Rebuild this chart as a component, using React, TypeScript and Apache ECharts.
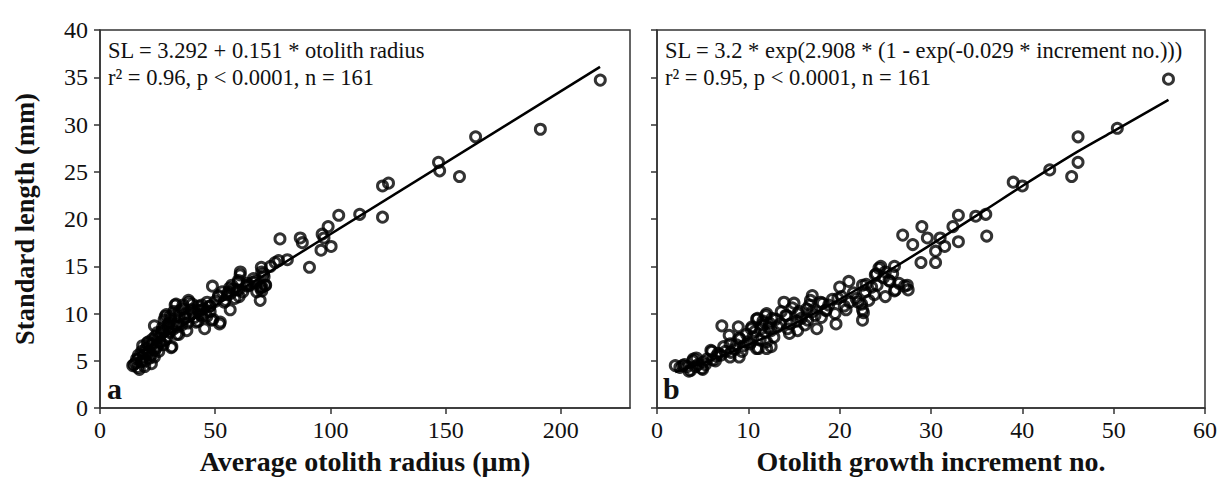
import React, { useEffect, useRef } from "react";
import * as echarts from "echarts";

// Panel a: standard length vs average otolith radius
const radiusX = [
  217.1, 191.1, 163.0, 156.0, 146.9, 147.4, 125.2, 122.6, 122.6, 112.7, 103.6, 99.0, 96.4, 97.2, 100.3, 95.9, 90.9, 86.9, 87.8, 78.1,
  81.3, 77.5, 76.0, 70.0, 70.2, 71.2, 67.3, 71.9, 69.9, 70.2, 69.5, 66.4, 63.9, 60.8, 59.9, 60.4, 57.9, 55.3, 56.2, 56.5,
  53.9, 51.5, 51.9, 48.8, 47.6, 48.5, 45.4, 43.3, 42.8, 42.5, 40.4, 38.7, 37.7, 36.8, 35.6, 34.2, 33.0, 32.2, 31.2, 30.8,
  30.1, 28.8, 27.1, 26.2, 25.0, 23.6, 23.6, 22.8, 20.5, 19.7, 17.1, 14.7, 15.9, 18.5, 21.1, 24.5,
  14.2, 16.3, 18.7, 19.4, 22.3, 20.4, 22.3, 23.8, 18.1, 21.7, 24.6, 26.1, 28.3, 30.9, 26.8, 29.7, 27.8, 30.4, 33.6, 36.7,
  39.9, 41.7, 44.2, 46.4, 47.8, 49.0, 52.2, 55.8, 59.4, 60.9, 63.8, 69.6, 71.0, 71.7, 16.7, 21.0, 25.3, 29.4, 33.3, 28.3,
  32.6, 34.1, 38.4, 42.4, 44.2, 47.8, 51.4, 54.3, 56.5, 57.2, 60.1, 60.1, 63.7, 66.6, 70.3,
  15.5, 17.8, 19.0, 20.0, 21.5, 23.0, 24.0, 25.5, 26.5, 27.5, 28.0, 29.0, 30.0, 31.5, 32.0, 33.5, 34.5, 35.5, 36.0, 37.0,
  38.0, 39.0, 40.0, 41.0, 43.5, 45.0, 46.5, 50.0, 53.0, 58.5, 62.0, 65.0, 68.0, 74.0,
];
const radiusSL = [
  34.7, 29.5, 28.7, 24.5, 26.0, 25.1, 23.8, 23.5, 20.2, 20.5, 20.4, 19.2, 18.4, 18.0, 17.1, 16.7, 14.9, 18.0, 17.5, 17.9,
  15.7, 15.6, 15.4, 14.9, 14.4, 13.9, 13.4, 13.0, 12.8, 12.4, 11.4, 13.3, 12.9, 14.1, 13.3, 11.8, 12.6, 12.0, 12.7, 10.4,
  11.2, 11.9, 8.9, 12.9, 10.8, 9.3, 8.4, 10.3, 10.8, 9.2, 10.1, 11.2, 8.2, 9.6, 10.5, 7.8, 11.0, 8.9, 6.5, 9.4,
  8.0, 9.9, 8.5, 6.9, 8.0, 8.7, 5.4, 7.3, 6.9, 5.0, 4.1, 4.6, 5.2, 6.6, 6.0, 6.4,
  4.5, 4.3, 5.3, 4.4, 4.7, 5.7, 5.6, 6.1, 6.0, 6.7, 6.6, 7.0, 7.2, 6.4, 8.1, 8.6, 9.3, 9.7, 9.0, 9.5,
  10.4, 9.1, 10.9, 9.7, 10.2, 9.4, 9.1, 12.3, 12.5, 14.4, 13.2, 12.7, 14.2, 13.0, 5.6, 7.0, 7.4, 8.8, 7.8, 9.7,
  10.9, 9.7, 11.4, 10.4, 9.7, 10.8, 11.8, 11.4, 12.1, 13.0, 13.5, 12.5, 13.0, 13.7, 12.8,
  4.8, 4.9, 5.8, 6.3, 5.3, 6.8, 7.6, 6.0, 7.8, 6.7, 8.2, 7.5, 9.0, 8.3, 10.2, 8.6, 10.3, 8.8, 10.9, 10.0,
  9.0, 9.8, 11.0, 9.6, 9.9, 10.5, 11.2, 11.3, 12.3, 11.6, 12.3, 13.0, 12.3, 15.0,
];
const fitAX = [14, 217];
const fitAY = [5.4, 36.1];

// Panel b: standard length vs otolith growth increment number
const incrementX = [
  56.0, 50.4, 46.1, 46.1, 45.4, 43.0, 39.0, 40.0, 36.0, 34.9, 36.1, 33.0, 32.4, 33.0, 31.0, 31.5, 30.5, 30.5, 29.0, 29.6,
  28.9, 26.9, 28.0, 26.0, 24.3, 23.9, 25.0, 25.5, 24.1, 25.0, 26.1, 27.4, 27.5, 22.5, 22.8, 23.2, 22.5, 22.5, 22.0, 21.0,
  20.0, 19.8, 20.7, 19.5, 19.6, 18.5, 17.9, 17.0, 16.7, 17.0, 17.5, 16.5, 15.6, 15.0, 13.9, 14.1, 14.6, 14.5, 15.4, 13.5,
  12.6, 12.5, 12.5, 12.0, 12.0, 11.5, 11.0, 10.7, 11.1, 10.4, 10.0, 8.9, 9.0, 9.0, 7.9, 8.0, 8.0, 7.1, 7.3, 6.7,
  6.0, 6.1, 5.1, 4.9, 4.0, 4.3, 3.7, 3.0, 2.0, 4.5, 8.7,
  2.8, 3.5, 3.9, 5.0, 5.9, 7.0, 8.1, 9.1, 10.3, 10.5, 10.9, 10.9, 11.4, 11.9, 12.0, 13.0, 14.2, 15.3, 15.4, 16.4,
  18.1, 18.5, 21.1, 22.4, 22.6, 22.9, 24.0, 24.5, 25.4, 26.0, 27.1,
  2.5, 3.3, 4.2, 5.5, 6.5, 7.5, 8.5, 9.5, 9.8, 10.2, 11.3, 11.8, 12.3, 12.8, 13.2, 13.6, 14.3, 14.8, 15.8, 16.2,
  16.8, 17.3, 18.0, 18.8, 19.2, 20.2, 20.5, 21.5, 21.8, 23.5, 23.8, 24.8, 25.8, 26.5, 12.2, 9.3, 6.4, 5.3, 11.6,
];
const incrementSL = [
  34.8, 29.6, 28.7, 26.0, 24.5, 25.2, 23.9, 23.5, 20.5, 20.3, 18.2, 20.4, 19.2, 17.6, 18.0, 17.1, 16.6, 15.4, 19.2, 18.0,
  15.4, 18.3, 17.3, 15.0, 14.8, 14.1, 14.4, 13.4, 13.0, 11.8, 12.5, 13.0, 12.5, 13.0, 12.3, 11.4, 10.4, 9.3, 11.2, 13.4,
  12.8, 11.6, 10.4, 10.0, 8.9, 10.4, 11.2, 11.9, 10.9, 10.2, 8.4, 9.3, 10.2, 11.1, 11.2, 9.8, 8.9, 7.9, 8.2, 8.9,
  9.5, 8.2, 6.5, 10.0, 6.3, 8.8, 9.5, 8.1, 6.3, 8.6, 7.0, 8.6, 7.4, 5.4, 7.7, 6.8, 5.4, 8.7, 6.5, 5.8,
  6.0, 5.1, 4.9, 4.2, 5.2, 5.3, 4.0, 4.6, 4.5, 4.6, 6.7,
  4.5, 3.9, 5.0, 4.1, 6.1, 5.6, 5.9, 7.3, 8.4, 7.5, 9.4, 6.3, 8.4, 9.8, 7.0, 9.4, 9.8, 9.2, 10.0, 10.5,
  11.1, 10.3, 11.2, 11.0, 10.1, 13.1, 14.2, 15.0, 13.5, 12.4, 12.9,
  4.3, 4.4, 4.4, 5.2, 5.5, 6.0, 6.2, 6.6, 7.8, 6.8, 7.2, 8.0, 9.0, 7.5, 8.6, 10.2, 8.4, 10.6, 9.5, 8.8,
  11.4, 9.8, 9.6, 10.9, 11.5, 11.8, 10.8, 12.2, 11.6, 12.8, 12.0, 13.8, 14.2, 13.2, 8.5, 6.0, 5.0, 4.6, 9.2,
];
const fitBX = [2, 6, 10, 15, 20, 26, 30, 36, 40, 46, 50, 56];
const fitBY = [3.8, 5.1, 6.7, 8.9, 11.5, 14.9, 17.3, 21.0, 23.5, 27.1, 29.3, 32.6];

const radiusTicks = [0, 50, 100, 150, 200];

const FONT = "Liberation Serif";
const INK = "#111";
const AXIS = "#333";

export default function App() {
  const ref = useRef<HTMLDivElement>(null);

  useEffect(() => {
    if (!ref.current) return;
    const chart = echarts.init(ref.current, null, { renderer: "svg" });

    const pairs = (xs: number[], ys: number[]) => xs.map((x, i) => [x, ys[i]]);

    const axisLine = { show: true, lineStyle: { color: AXIS, width: 1.5 } };
    const tickStyle = { color: AXIS, width: 1.5 };
    const labelStyle = { fontFamily: FONT, fontSize: 24, color: INK };
    const xNameStyle = { fontFamily: FONT, fontSize: 28, fontWeight: "bold" as const, color: INK };
    const yNameStyle = { fontFamily: FONT, fontSize: 26.5, fontWeight: "bold" as const, color: INK };

    const scatterStyle = {
      color: "rgba(0,0,0,0)",
      borderColor: "#000",
      borderWidth: 3,
    };

    const annot = { fontFamily: FONT, fontSize: 22.5, fill: INK, verticalAlign: "middle" };

    const option = {
      animation: false,
      textStyle: { fontFamily: FONT },
      grid: [
        { left: 100, top: 30, width: 530, height: 379, show: true, borderColor: AXIS, borderWidth: 1.5, backgroundColor: "transparent" },
        { left: 657, top: 30, width: 548, height: 379, show: true, borderColor: AXIS, borderWidth: 1.5, backgroundColor: "transparent" },
      ],
      xAxis: [
        {
          gridIndex: 0,
          type: "value",
          min: 0,
          max: 230,
          interval: 50,
          axisLine,
          axisTick: { show: true, length: 6, lineStyle: tickStyle, customValues: radiusTicks },
          axisLabel: { ...labelStyle, margin: 10, customValues: radiusTicks },
          splitLine: { show: false },
          name: "Average otolith radius (µm)",
          nameLocation: "middle",
          nameGap: 24,
          nameTextStyle: xNameStyle,
        },
        {
          gridIndex: 1,
          type: "value",
          min: 0,
          max: 60,
          interval: 10,
          axisLine,
          axisTick: { show: true, length: 6, lineStyle: tickStyle },
          axisLabel: { ...labelStyle, margin: 10 },
          splitLine: { show: false },
          name: "Otolith growth increment no.",
          nameLocation: "middle",
          nameGap: 24,
          nameTextStyle: xNameStyle,
        },
      ],
      yAxis: [
        {
          gridIndex: 0,
          type: "value",
          min: 0,
          max: 40,
          interval: 5,
          axisLine,
          axisTick: { show: true, length: 6, lineStyle: tickStyle },
          axisLabel: { ...labelStyle, margin: 12 },
          splitLine: { show: false },
          name: "Standard length (mm)",
          nameLocation: "middle",
          nameRotate: 90,
          nameGap: 62,
          nameTextStyle: yNameStyle,
        },
        {
          gridIndex: 1,
          type: "value",
          min: 0,
          max: 40,
          interval: 5,
          axisLine,
          axisTick: { show: true, length: 6, lineStyle: tickStyle },
          axisLabel: { show: false },
          splitLine: { show: false },
        },
      ],
      series: [
        {
          type: "scatter",
          xAxisIndex: 0,
          yAxisIndex: 0,
          data: pairs(radiusX, radiusSL),
          symbol: "circle",
          symbolSize: 10,
          itemStyle: scatterStyle,
          z: 2,
        },
        {
          type: "line",
          xAxisIndex: 0,
          yAxisIndex: 0,
          data: pairs(fitAX, fitAY),
          showSymbol: false,
          lineStyle: { color: "#000", width: 2.5 },
          z: 3,
        },
        {
          type: "scatter",
          xAxisIndex: 1,
          yAxisIndex: 1,
          data: pairs(incrementX, incrementSL),
          symbol: "circle",
          symbolSize: 10,
          itemStyle: scatterStyle,
          z: 2,
        },
        {
          type: "line",
          xAxisIndex: 1,
          yAxisIndex: 1,
          data: pairs(fitBX, fitBY),
          showSymbol: false,
          smooth: 0.3,
          lineStyle: { color: "#000", width: 2.5 },
          z: 3,
        },
      ],
      graphic: [
        { type: "text", x: 108, y: 50, style: { text: "SL = 3.292 + 0.151 * otolith radius", ...annot } },
        { type: "text", x: 108, y: 77, style: { text: "r² = 0.96, p < 0.0001, n = 161", ...annot } },
        { type: "text", x: 665, y: 50, style: { text: "SL = 3.2 * exp(2.908 * (1 - exp(-0.029 * increment no.)))", ...annot } },
        { type: "text", x: 665, y: 77, style: { text: "r² = 0.95, p < 0.0001, n = 161", ...annot } },
        { type: "text", x: 107, y: 403, style: { text: "a", fontFamily: FONT, fontSize: 30, fontWeight: "bold", fill: INK, verticalAlign: "bottom" } },
        { type: "text", x: 663, y: 403, style: { text: "b", fontFamily: FONT, fontSize: 30, fontWeight: "bold", fill: INK, verticalAlign: "bottom" } },
      ],
    };

    chart.setOption(option as any);
    return () => chart.dispose();
  }, []);

  return (
    <div
      ref={ref}
      style={{ position: "fixed", left: 0, top: 0, width: 1222, height: 480, background: "#fff" }}
    />
  );
}
